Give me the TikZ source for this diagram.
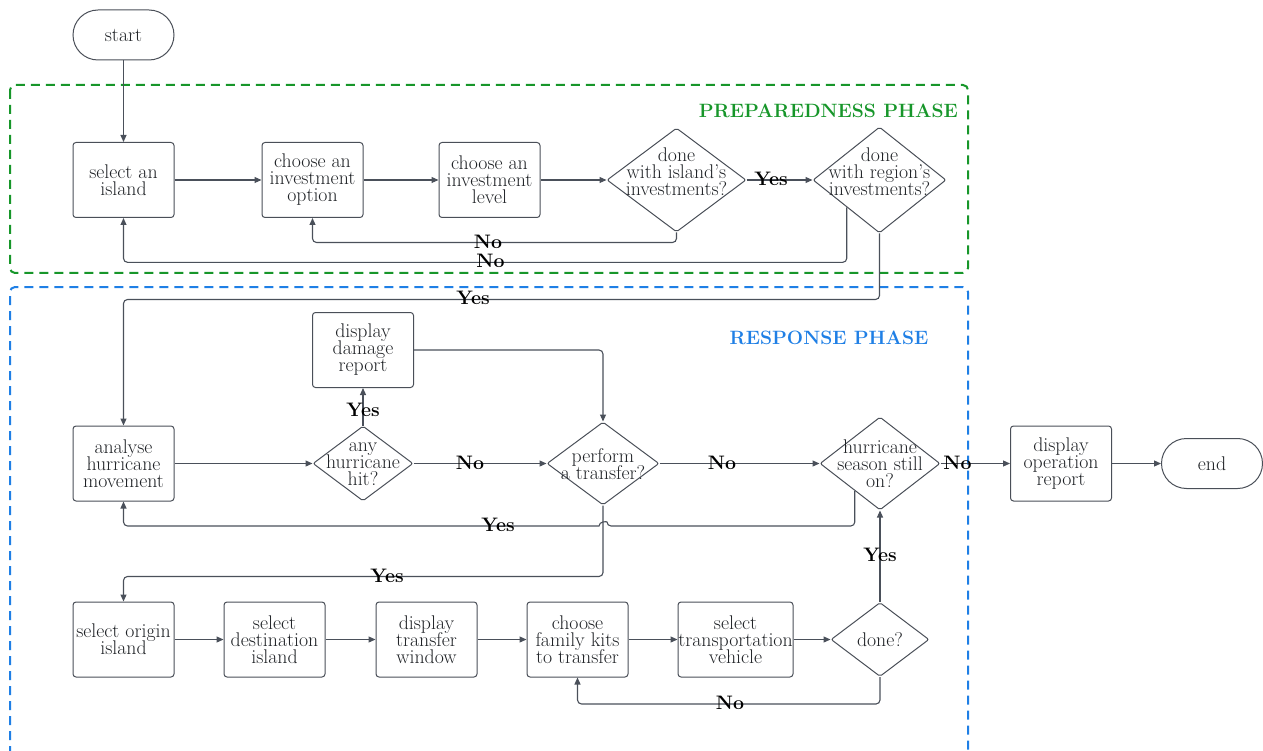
\documentclass[tikz,border=0pt]{standalone}
\usetikzlibrary{arrows.meta,shapes.geometric,calc}

\definecolor{linec}{HTML}{4A505A}
\definecolor{borderc}{HTML}{4A4F58}
\definecolor{textc}{HTML}{1F2226}
\definecolor{prepc}{HTML}{17962A}
\definecolor{respc}{HTML}{1F7FE5}

\begin{document}
\begin{tikzpicture}[x=1pt,y=-1pt,
  font={\fontsize{19.8}{17}\selectfont\lineskiplimit=-20pt},
  text=textc,
  box/.style={draw=borderc, line width=1pt, rounded corners=3pt,
    minimum width=101pt, minimum height=75pt, inner xsep=-4pt, inner ysep=0pt, align=center},
  term/.style={draw=borderc, line width=1pt, rounded corners=25pt,
    minimum width=101pt, minimum height=50pt, inner sep=0pt},
  dec/.style={draw=borderc, line width=1pt, diamond, inner sep=0pt, rounded corners=2pt},
  dtext/.style={align=center, inner sep=0pt},
  flow/.style={draw=linec, line width=1.1pt, rounded corners=4pt,
    -{Triangle[length=7pt,width=6pt]}},
  lbl/.style={font={\fontsize{19.5}{19}\selectfont\bfseries}, text=black, inner sep=0pt},
  phase/.style={line width=2pt, dash pattern=on 9pt off 6pt, rounded corners=5pt},
  title/.style={font={\fontsize{19.3}{20}\selectfont\bfseries}, inner sep=0pt},
]
\useasboundingbox (0,0) rectangle (1263,751);

% phase frames
\draw[prepc, phase] (10,85) rectangle (968,273);
\draw[respc, phase] (10,755) -- (10,287) -- (968,287) -- (968,755);
\node[title, text=prepc, anchor=east] (tprep) at (958,111) {PREPAREDNESS PHASE};
\node[title, text=respc] (tresp) at (829,338) {RESPONSE PHASE};

% preparedness phase
\node[term] (start) at (123.5,35) {start};
\node[box] (selisl) at (123.5,180) {select an\\island};
\node[box] (invopt) at (312.5,180) {choose an\\investment\\option};
\node[box] (invlev) at (489.5,180) {choose an\\investment\\level};
\node[dec, minimum width=139pt, minimum height=104pt] (disl) at (676.5,180) {};
\node[dtext] (tdisl) at (676.5,172) {done\\with island's\\investments?};
\node[dec, minimum width=133pt, minimum height=106pt] (dreg) at (879.5,180) {};
\node[dtext] (tdreg) at (879.5,172) {done\\with region's\\investments?};

% response phase
\node[box] (dmg) at (363,350) {display\\damage\\report};
\node[box] (ana) at (123.5,463.5) {analyse\\hurricane\\movement};
\node[dec, minimum width=100pt, minimum height=75pt] (hit) at (363,463.5) {};
\node[dtext] (thit) at (363,464) {any\\hurricane\\hit?};
\node[dec, minimum width=112pt, minimum height=83pt] (perf) at (603,463.5) {};
\node[dtext] (tperf) at (603,464.5) {perform\\a transfer?};
\node[dec, minimum width=120pt, minimum height=93pt] (seas) at (880,463.5) {};
\node[dtext] (tseas) at (880,464) {hurricane\\season still\\on?};
\node[box] (oprep) at (1061,463.5) {display\\operation\\report};
\node[term] (end) at (1212,463.5) {end};

\node[box] (orig) at (123.5,639.5) {select origin\\island};
\node[box] (dest) at (274.5,639.5) {select\\destination\\island};
\node[box] (win) at (426.5,639.5) {display\\transfer\\window};
\node[box] (kits) at (577.5,639.5) {choose\\family kits\\to transfer};
\node[box, minimum width=115pt] (veh) at (735.5,639.5) {select\\transportation\\vehicle};
\node[dec, minimum width=98pt, minimum height=74pt] (done) at (880,639.5) {};
\node[dtext] (tdone) at (880,639.5) {done?};

% connectors: preparedness
\draw[flow] (start) -- (selisl);
\draw[flow] (selisl) -- (invopt);
\draw[flow] (invopt) -- (invlev);
\draw[flow] (invlev) -- (disl);
\draw[flow] (disl) -- (dreg);
\draw[flow] (disl.south) -- ++(0,10) -| (invopt.south);
\draw[flow] ($(dreg.west)!0.511!(dreg.south)$) -- ++(0,55) -| (selisl.south);
\draw[flow] (dreg.south) -- ++(0,66) -| (ana.north);

% connectors: response
\draw[flow] (ana) -- (hit);
\draw[flow] (hit) -- (dmg);
\draw[flow] (dmg.east) -| (perf.north);
\draw[flow] (hit) -- (perf);
\draw[flow] (perf) -- (seas);
\draw[flow] (seas) -- (oprep);
\draw[flow] (oprep) -- (end);
\draw[flow] ($(seas.west)!0.583!(seas.south)$) |- (607,526)
  [sharp corners] .. controls (607,521.3) and (599,521.3) .. (599,526)
  [rounded corners=4pt] -| (ana.south);
\draw[flow] (perf.south) -- ++(0,71) -| (orig.north);

% connectors: transfer loop
\draw[flow] (orig) -- (dest);
\draw[flow] (dest) -- (win);
\draw[flow] (win) -- (kits);
\draw[flow] (kits) -- (veh);
\draw[flow] (veh) -- (done);
\draw[flow] (done.south) -- ++(0,27) -| (kits.south);
\draw[flow] (done) -- (seas);

% branch labels
\node[lbl] (l1) at (771,178.5) {Yes};
\node[lbl] (l2) at (488,242) {No};
\node[lbl] (l3) at (490.5,261) {No};
\node[lbl] (l4) at (473,298) {Yes};
\node[lbl] (l5) at (363,409.5) {Yes};
\node[lbl] (l6) at (470,462.5) {No};
\node[lbl] (l7) at (722,462.5) {No};
\node[lbl] (l8) at (957.5,462.5) {No};
\node[lbl] (l9) at (498,525) {Yes};
\node[lbl] (l10) at (387,576) {Yes};
\node[lbl] (l11) at (880,554.5) {Yes};
\node[lbl] (l12) at (730,702.5) {No};
\end{tikzpicture}
\end{document}
